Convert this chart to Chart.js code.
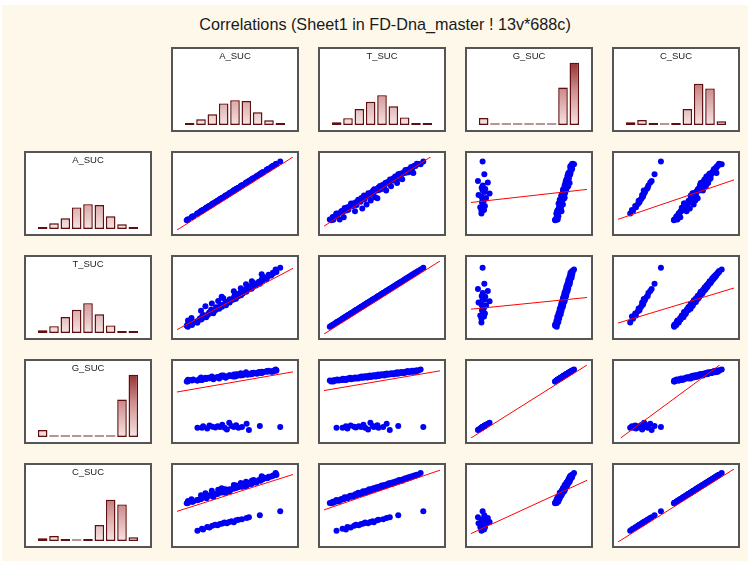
<!DOCTYPE html>
<html>
<head>
<meta charset="utf-8">
<script src="https://cdn.jsdelivr.net/npm/chart.js@4.4.1/dist/chart.umd.min.js"></script>
<style>
  html, body { margin: 0; padding: 0; background: #ffffff; }
  #root { position: relative; width: 750px; height: 563px; overflow: hidden; background: #ffffff; }
  #paper { position: absolute; left: 2px; top: 5px; width: 746px; height: 556px; background: #fdf8ea; }
  #title { position: absolute; left: 0; top: 15px; width: 770px; text-align: center;
           font: 16.2px "Liberation Sans", Arial, sans-serif; color: #1a1a1a; white-space: nowrap; }
  .panel { position: absolute; width: 124px; height: 81px; border: 2px solid #555; background: #ffffff; }
  .panel canvas { display: block; position: absolute; left: 0; top: 0; }
  .hlabel { position: absolute; left: 0; top: 2px; width: 124px; text-align: center;
            font: 9.5px "Liberation Sans", Arial, sans-serif; color: #222; line-height: 10px; }
</style>
</head>
<body>
<div id="root">
  <div id="paper"></div>
  <div id="title">Correlations (Sheet1 in FD-Dna_master ! 13v*688c)</div>
</div>
<script>
// ---------- DATA ----------
const VARIABLES = ['A_SUC', 'T_SUC', 'G_SUC', 'C_SUC'];

// observations (first 87: main cluster, last 22: low-G / low-C cluster), values on each variable's plotting scale
const A_SUC = [
  9.3, 8.4, 12.9, 9.2, 13.4, 17.3, 14.0, 17.7, 9.5, 20.8,
  19.7, 12.5, 25.1, 21.6, 25.5, 22.6, 27.1, 31.3, 27.8, 31.3,
  20.7, 31.5, 29.4, 36.4, 35.0, 33.7, 38.8, 24.5, 37.6, 42.2,
  37.5, 41.6, 30.0, 41.9, 45.4, 41.9, 44.9, 35.5, 45.4, 48.2,
  45.5, 50.8, 40.0, 49.7, 49.2, 38.5, 52.4, 49.7, 55.2, 53.0,
  51.1, 56.7, 55.8, 54.7, 59.5, 49.0, 59.1, 60.6, 59.2, 64.2,
  55.0, 62.9, 65.4, 62.9, 68.2, 65.7, 59.5, 68.9, 66.0, 72.1,
  70.6, 64.5, 73.9, 73.1, 77.2, 73.6, 77.4, 74.1, 78.5, 81.2,
  79.0, 73.0, 82.9, 82.7, 85.7, 85.5, 85.0,
  17.6, 21.5, 22.5, 26.0, 28.0, 30.5, 33.0, 35.0, 37.0, 39.0, 41.0,
  43.0, 45.0, 47.0, 49.0, 51.0, 53.0, 56.0, 60.0, 62.0, 71.4, 89.0
];
const T_SUC = [
  5.0, 6.2, 7.5, 8.1, 9.4, 10.6, 11.3, 12.8, 13.5, 14.9,
  16.2, 17.0, 17.8, 19.1, 20.4, 21.0, 22.5, 23.3, 24.6, 25.2,
  26.7, 27.4, 28.1, 29.5, 30.2, 31.6, 32.3, 33.0, 33.8, 34.5,
  35.1, 36.0, 36.7, 37.4, 38.2, 38.9, 39.6, 40.3, 41.1, 41.8,
  42.6, 43.3, 44.0, 44.8, 45.5, 46.0, 46.7, 47.5, 48.2, 49.0,
  49.7, 50.5, 51.3, 52.0, 52.8, 53.6, 54.3, 55.2, 56.0, 56.9,
  57.8, 58.6, 59.5, 60.4, 61.3, 62.2, 63.0, 63.8, 64.7, 65.6,
  66.5, 67.4, 68.3, 69.3, 70.2, 71.2, 72.1, 73.0, 74.0, 75.1,
  76.0, 77.0, 77.8, 78.9, 80.0, 81.2, 83.3,
  10.8, 16.0, 18.9, 20.2, 23.0, 26.0, 27.5, 30.0, 32.0, 34.0, 35.5,
  38.0, 40.0, 42.0, 43.0, 46.0, 47.0, 51.0, 54.0, 56.7, 64.0, 85.6
];
const G_SUC = [
  73.9, 72.5, 73.8, 72.5, 74.4, 73.9, 75.3, 73.6, 74.7, 74.4,
  76.0, 74.6, 75.7, 74.5, 76.5, 75.8, 77.4, 75.5, 76.8, 76.3,
  78.0, 76.5, 77.6, 76.5, 78.3, 77.8, 79.2, 77.4, 78.5, 78.0,
  79.5, 78.1, 79.2, 78.0, 79.8, 79.2, 80.6, 78.7, 79.9, 79.4,
  81.0, 79.5, 80.6, 79.4, 81.2, 80.5, 81.9, 80.1, 81.2, 80.8,
  82.3, 80.8, 82.0, 80.7, 82.6, 81.9, 83.3, 81.5, 82.7, 82.2,
  83.8, 82.4, 83.5, 82.3, 84.2, 83.5, 85.0, 83.1, 84.3, 83.9,
  85.4, 84.0, 85.2, 84.0, 85.8, 85.2, 86.7, 84.9, 86.0, 85.6,
  87.2, 85.8, 87.0, 85.8, 87.7, 87.1, 88.8,
  9.0, 9.0, 11.2, 8.0, 12.0, 10.3, 9.5, 11.0, 10.0, 13.0, 9.0,
  6.5, 16.0, 11.6, 10.0, 12.3, 9.2, 10.2, 14.5, 6.0, 11.5, 10.0
];
const C_SUC = [
  48.5, 48.2, 50.3, 48.8, 50.5, 52.4, 50.6, 52.3, 51.2, 54.0,
  53.7, 53.7, 56.4, 55.6, 55.0, 56.8, 58.3, 57.1, 58.7, 56.9,
  59.1, 60.6, 59.2, 62.6, 60.9, 60.6, 62.8, 61.9, 64.4, 62.9,
  63.9, 62.6, 65.2, 64.9, 64.2, 67.1, 65.3, 66.7, 65.4, 67.8,
  67.3, 69.0, 67.3, 68.6, 70.0, 68.7, 69.9, 68.8, 70.9, 70.4,
  72.4, 70.7, 72.1, 73.1, 71.3, 73.2, 74.2, 73.2, 75.4, 74.5,
  75.7, 74.6, 77.0, 76.4, 76.2, 78.1, 77.7, 77.7, 79.8, 78.8,
  80.1, 79.0, 81.1, 81.0, 82.4, 81.3, 82.8, 83.8, 82.9, 84.7,
  84.4, 84.9, 86.0, 85.9, 87.2, 87.1, 89.4,
  10.5, 13.0, 12.0, 15.5, 14.8, 17.2, 18.5, 17.8, 19.8, 20.5, 21.6,
  20.8, 22.5, 23.3, 22.2, 24.8, 25.6, 26.2, 27.8, 29.0, 31.5, 37.0
];

// histogram counts (9 bins each, 688 cases)
const HIST_BINS = ['1', '2', '3', '4', '5', '6', '7', '8', '9'];
const HIST_A = [13, 37, 69, 139, 160, 154, 82, 30, 4];
const HIST_T = [17, 44, 103, 150, 192, 121, 49, 8, 4];
const HIST_G = [45, 0, 0, 0, 0, 0, 0, 241, 402];
const HIST_C = [17, 32, 2, 0, 8, 103, 266, 236, 24];

// fitted lines per panel [row][col]: [x1, y1, x2, y2] in the panel's data units
const FIT_LINES = [
  [[0, -5, 100, 95], [0, 0.2, 100, 103.5], [0, 32.7, 100, 50.6], [0, 9.6, 100, 63.7]],
  [[0, 1, 100, 85], [0, -5, 100, 95], [0, 29, 100, 45], [0, 10, 100, 58]],
  [[0, 58, 100, 85.6], [0, 60, 100, 87], [0, -5, 100, 95], [2.3, -5, 87.7, 95]],
  [[0, 37, 100, 87.5], [0, 39, 100, 93.4], [0, 6.5, 100, 79.5], [0, -5, 100, 95]]
];

// ---------- LAYOUT ----------
const SERIES = [A_SUC, T_SUC, G_SUC, C_SUC];
const HISTS = [HIST_A, HIST_T, HIST_G, HIST_C];
const COL_X = [171, 318, 465, 612];
const HIST_COL_X = 24;
const ROW_Y = [151, 255, 359, 463];
const TOP_Y = 47;
const INNER_W = 124, INNER_H = 81;

Chart.defaults.animation = false;
const root = document.getElementById('root');

function makePanel(x, y, label) {
  const d = document.createElement('div');
  d.className = 'panel';
  d.style.left = x + 'px';
  d.style.top = y + 'px';
  const c = document.createElement('canvas');
  c.width = INNER_W; c.height = INNER_H;
  c.style.width = INNER_W + 'px'; c.style.height = INNER_H + 'px';
  d.appendChild(c);
  if (label) {
    const s = document.createElement('div');
    s.className = 'hlabel';
    s.textContent = label;
    d.appendChild(s);
  }
  root.appendChild(d);
  return c;
}

function barGradient(ctx) {
  const chart = ctx.chart;
  const area = chart.chartArea;
  if (!area) return '#e0b0b0';
  const g = chart.ctx.createLinearGradient(0, area.bottom, 0, area.top);
  g.addColorStop(0, '#f6e4e4');
  g.addColorStop(0.45, '#cf9090');
  g.addColorStop(1, '#780808');
  return g;
}

function histChart(canvas, counts) {
  new Chart(canvas, {
    type: 'bar',
    data: {
      labels: HIST_BINS,
      datasets: [
        {
          data: counts,
          grouped: false,
          order: 2,
          backgroundColor: 'rgba(0,0,0,0)',
          borderColor: 'rgba(205,140,140,0.55)',
          borderWidth: 3.5,
          borderSkipped: false,
          minBarLength: 2,
          categoryPercentage: 1,
          barPercentage: 0.84
        },
        {
          data: counts,
          grouped: false,
          order: 1,
          backgroundColor: barGradient,
          borderColor: (c) => (c.raw === 0 ? '#b89494' : '#5e1010'),
          borderWidth: 1.4,
          borderSkipped: false,
          minBarLength: 2,
          categoryPercentage: 1,
          barPercentage: 0.84
        }
      ]
    },
    options: {
      responsive: false,
      devicePixelRatio: 1,
      events: [],
      layout: { padding: { left: 11, right: 11, top: 0, bottom: 5 } },
      plugins: { legend: { display: false }, tooltip: { enabled: false } },
      scales: {
        x: { display: false, offset: true },
        y: { display: false, min: 0, max: 490 }
      }
    }
  });
}

function scatterChart(canvas, r, c) {
  const xs = SERIES[c], ys = SERIES[r];
  const pts = xs.map((v, k) => ({ x: v, y: ys[k] }));
  const L = FIT_LINES[r][c];
  new Chart(canvas, {
    type: 'scatter',
    data: {
      datasets: [
        {
          data: [{ x: L[0], y: L[1] }, { x: L[2], y: L[3] }],
          showLine: true,
          borderColor: '#ff0000',
          borderWidth: 1,
          pointRadius: 0,
          order: 0
        },
        {
          data: pts,
          backgroundColor: '#0000f5',
          borderWidth: 0,
          pointRadius: 3,
          order: 1
        }
      ]
    },
    options: {
      responsive: false,
      devicePixelRatio: 1,
      events: [],
      layout: { padding: 0 },
      plugins: { legend: { display: false }, tooltip: { enabled: false } },
      scales: {
        x: { type: 'linear', display: false, min: 0, max: 100 },
        y: { type: 'linear', display: false, min: -5, max: 95 }
      }
    }
  });
}

// top histogram row
for (let c = 0; c < 4; c++) {
  histChart(makePanel(COL_X[c], TOP_Y, VARIABLES[c]), HISTS[c]);
}
// left histogram column + scatter matrix
for (let r = 0; r < 4; r++) {
  histChart(makePanel(HIST_COL_X, ROW_Y[r], VARIABLES[r]), HISTS[r]);
  for (let c = 0; c < 4; c++) {
    scatterChart(makePanel(COL_X[c], ROW_Y[r]), r, c);
  }
}
</script>
</body>
</html>
